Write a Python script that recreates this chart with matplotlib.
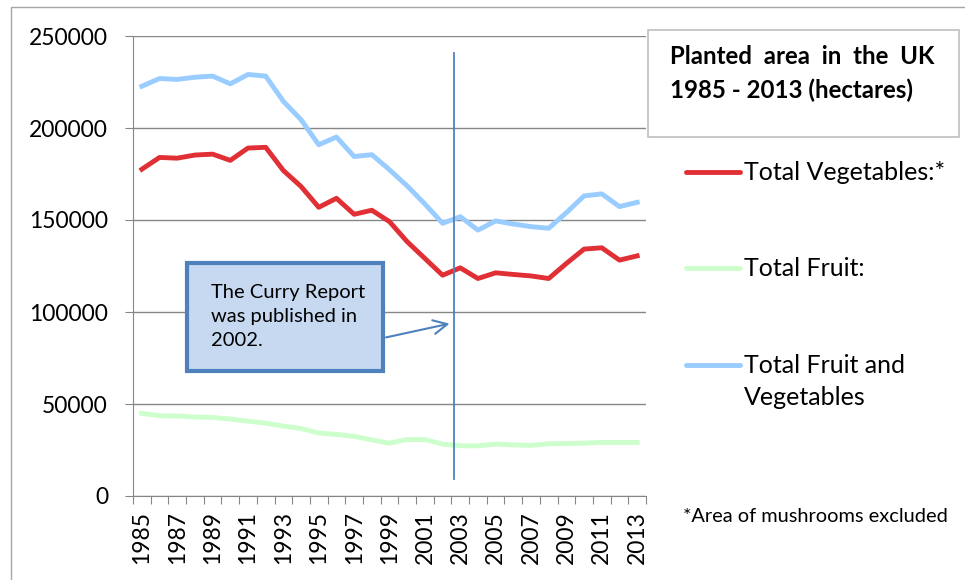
import matplotlib
matplotlib.use("Agg")
import matplotlib.pyplot as plt
from matplotlib.patches import Rectangle
from matplotlib.lines import Line2D
import numpy as np

plt.rcParams['font.family'] = ['Lato', 'DejaVu Sans']

years = list(range(1985, 2014))
vegetables = [177.6, 184.0, 183.6, 185.3, 185.8, 182.4, 189.1, 189.5, 176.9, 168.2,
              156.9, 161.8, 153.1, 155.3, 149.1, 138.2, 129.1, 120.0, 124.0, 118.2,
              121.3, 120.4, 119.6, 118.2, 126.4, 134.2, 134.9, 128.2, 130.5]
fruit = [44.9, 43.6, 43.5, 42.9, 42.7, 41.8, 40.7, 39.6, 38.0, 36.7,
         34.2, 33.5, 32.4, 30.5, 28.7, 30.7, 30.7, 28.2, 27.3, 27.3,
         28.2, 27.8, 27.5, 28.4, 28.5, 28.7, 29.1, 29.1, 29.1]
fruit_veg = [222.7, 226.9, 226.4, 227.6, 228.2, 224.0, 229.1, 228.2, 214.5, 204.5,
             190.9, 195.1, 184.5, 185.5, 177.3, 168.5, 158.7, 148.2, 151.8, 144.5,
             149.5, 147.8, 146.4, 145.5, 154.0, 163.1, 164.2, 157.3, 159.6]
vegetables = [v * 1000 for v in vegetables]
fruit = [v * 1000 for v in fruit]
fruit_veg = [v * 1000 for v in fruit_veg]

series_labels = ["Total Vegetables:*", "Total Fruit:", "Total Fruit and\nVegetables"]
colors = ["#E03036", "#CCFFCC", "#99CCFF"]
yticks = [0, 50000, 100000, 150000, 200000, 250000]
curry_year_pos = 17.65  # position of the 2002 marker line between categories
annot_text = "The Curry Report\nwas published in\n2002."
title_text_1 = "Planted  area  in  the  UK"
title_text_2 = "1985 - 2013 (hectares)"
footnote = "*Area of mushrooms excluded"

W, H = 965, 580
fig = plt.figure(figsize=(W / 100, H / 100), dpi=100)

# outer frame
fig.add_artist(Rectangle((11 / W, -0.05), 1.2, 1 - 7 / H + 0.05, transform=fig.transFigure,
                         fill=False, edgecolor="#A6A6A6", lw=1.0))

ax = fig.add_axes([133 / W, 1 - 496 / H, 513 / W, 460 / H])
x = np.arange(len(years))
LW = 3.5
ax.plot(x, fruit_veg, color=colors[2], lw=LW, solid_joinstyle='round', zorder=3)
ax.plot(x, fruit, color=colors[1], lw=LW, solid_joinstyle='round', zorder=3)
ax.plot(x, vegetables, color=colors[0], lw=LW, solid_joinstyle='round', zorder=4)

ax.set_xlim(-0.5, len(years) - 0.5)
ax.set_ylim(0, 250000)
ax.set_yticks(yticks)
ax.set_yticklabels([str(v) for v in yticks], fontsize=16.5)
ax.yaxis.grid(True, color="#868686", lw=1.0)
ax.set_axisbelow(True)
ax.set_xticks(np.arange(-0.5, len(years), 1.0), minor=False)
ax.set_xticklabels([])
ax.set_xticks(x[::2], minor=True)
ax.set_xticklabels([str(y) for y in years[::2]], minor=True, rotation=90, fontsize=16.5)
ax.tick_params(axis='x', which='minor', length=0, pad=11)
ax.tick_params(axis='x', which='major', length=6, color="#868686")
ax.tick_params(axis='y', length=6, color="#868686", pad=12)
for s in ['top', 'right']:
    ax.spines[s].set_visible(False)
for s in ['left', 'bottom']:
    ax.spines[s].set_color("#868686")

# vertical marker line
ax.plot([curry_year_pos, curry_year_pos], [9500, 240500], color="#4F81BD", lw=1.3, zorder=5)

# annotation box
bx0, bx1 = (186.7 - 133) / 513, (383.3 - 133) / 513
by0, by1 = (496 - 370.7) / 460, (496 - 262.7) / 460
ax.add_patch(Rectangle((bx0, by0), bx1 - bx0, by1 - by0, transform=ax.transAxes,
                       facecolor="#C6D9F1", edgecolor="#4F81BD", lw=3.0, zorder=6))
ax.text(bx0 + 0.048, (by0 + by1) / 2, annot_text, transform=ax.transAxes, fontsize=14.5,
        va='center', ha='left', linespacing=1.5, zorder=7)
ax.annotate("", xy=(curry_year_pos - 0.1, 94000), xycoords='data',
            xytext=(bx1, (496 - 338) / 460), textcoords='axes fraction',
            arrowprops=dict(arrowstyle='->,head_length=1.0,head_width=0.5', color="#4F81BD", lw=1.5),
            zorder=7)

# title box
fig.add_artist(Rectangle((648 / W, 1 - 137 / H), (959 - 648) / W, (137 - 30) / H,
                         transform=fig.transFigure, fill=False, edgecolor="#BFBFBF", lw=1.2))
fig.text(670 / W, 1 - 57 / H, title_text_1, fontsize=17.3, fontweight='bold', va='center', ha='left')
fig.text(670 / W, 1 - 90 / H, title_text_2, fontsize=17.3, fontweight='bold', va='center', ha='left')

# legend
legend_y = [171.7, 268, 365]
for lbl, col, ly in zip(series_labels, colors, legend_y):
    fig.add_artist(Line2D([686 / W, 740 / W], [1 - ly / H, 1 - ly / H], transform=fig.transFigure,
                          color=col, lw=LW, solid_capstyle='round'))
    fig.text(744 / W, 1 - (ly - 11) / H, lbl, fontsize=18, va='top', ha='left', linespacing=1.45)

fig.text(683 / W, 1 - 517 / H, footnote, fontsize=14.4, va='center', ha='left')

fig.savefig("out.png", dpi=100)
